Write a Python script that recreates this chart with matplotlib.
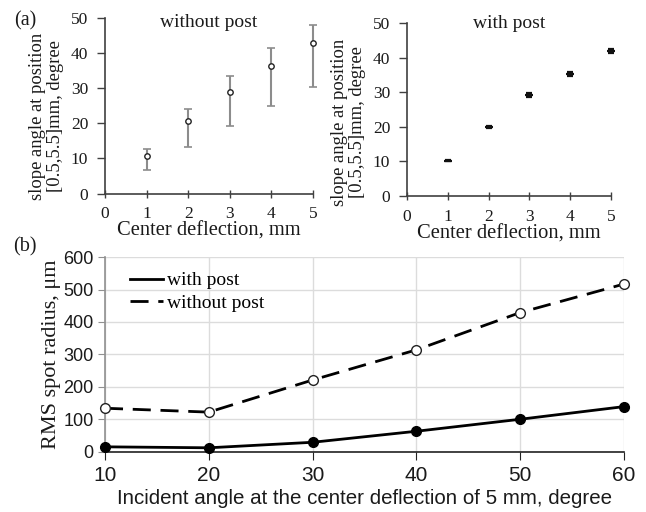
import matplotlib
matplotlib.use("Agg")
import matplotlib.pyplot as plt
import numpy as np

# ---- data -------------------------------------------------------------
deflection = [1, 2, 3, 4, 5]

# slope angle without post (mean, lower / upper bar ends)
slope_without = [10.7, 20.7, 28.9, 36.4, 42.8]
slope_without_low = [6.6, 13.2, 19.1, 25.0, 30.2]
slope_without_high = [12.6, 24.1, 33.4, 41.5, 48.0]

# slope angle with post (mean and small symmetric spread)
slope_with = [10.2, 20.0, 29.2, 35.2, 41.9]
slope_with_err = [0.2, 0.3, 0.5, 0.6, 0.5]

incident_angle = [10, 20, 30, 40, 50, 60]
rms_with_post = [15, 12, 29, 63, 100, 139]
rms_without_post = [134, 122, 221, 314, 429, 517]

top_xticks = [0, 1, 2, 3, 4, 5]
top_yticks = [0, 10, 20, 30, 40, 50]
bottom_yticks = [0, 100, 200, 300, 400, 500, 600]

SERIF = "Liberation Serif"
SANS = "Liberation Sans"
TXT = "#1a1a1a"

fig = plt.figure(figsize=(6.46, 5.12), dpi=100)


def style_top(ax, title, title_y, label_xy):
    ax.set_xlim(0, 5)
    ax.set_ylim(0, 50)
    ax.set_xticks(top_xticks)
    ax.set_yticks(top_yticks)
    for s in ("top", "right"):
        ax.spines[s].set_visible(False)
    for s in ("left", "bottom"):
        ax.spines[s].set_color("#404040")
        ax.spines[s].set_linewidth(1.2)
    ax.tick_params(axis="x", direction="inout", length=6, width=1.0,
                   color="#404040", labelsize=12.5, labelcolor=TXT, pad=6)
    ax.tick_params(axis="y", direction="out", length=6, width=1.0,
                   color="#404040", labelsize=12.5, labelcolor=TXT, pad=6)
    for lab in ax.get_xticklabels() + ax.get_yticklabels():
        lab.set_fontfamily(SERIF)
    ax.set_xlabel("Center deflection, mm", fontfamily=SERIF, fontsize=14.8,
                  color=TXT, labelpad=0)
    ax.set_ylabel("slope angle at position\n[0.5,5.5]mm, degree",
                  fontfamily=SERIF, fontsize=13.4, color=TXT,
                  linespacing=1.1, va="center")
    ax.yaxis.set_label_coords(*label_xy)
    ax.text(0.5, title_y, title, transform=ax.transAxes, ha="center",
            va="top", fontfamily=SERIF, fontsize=14, color=TXT)


# ---- (a) left: without post -------------------------------------------
ax1 = fig.add_axes([0.1625, 0.622, 0.322, 0.343])
yerr_lo = np.array(slope_without) - np.array(slope_without_low)
yerr_hi = np.array(slope_without_high) - np.array(slope_without)
ax1.errorbar(deflection, slope_without, yerr=[yerr_lo, yerr_hi], fmt="none",
             ecolor="#8c8c8c", elinewidth=1.5, capsize=2.6, capthick=1.2)
ax1.plot(deflection, slope_without, "o", ms=3.9, mfc="white", mec="#222222",
         mew=1.0, zorder=3)
style_top(ax1, "without post", 1.02, (-0.281, 0.44))
for c in ax1.get_children():
    c.set_clip_on(False)

# ---- (a) right: with post ---------------------------------------------
ax2 = fig.add_axes([0.630, 0.617, 0.316, 0.338])
ax2.errorbar(deflection, slope_with, yerr=slope_with_err, fmt="_",
             color="#111111", ms=6, mew=1.6, ecolor="#111111",
             elinewidth=1.0, capsize=2.5, capthick=1.0)
style_top(ax2, "with post", 1.045, (-0.287, 0.425))
for c in ax2.get_children():
    c.set_clip_on(False)

fig.text(0.022, 0.978, "(a)", fontfamily=SERIF, fontsize=14.5, color=TXT,
         va="top")

# ---- (b) RMS spot radius ----------------------------------------------
ax3 = fig.add_axes([0.1625, 0.1178, 0.8034, 0.380])
ax3.plot(incident_angle, rms_with_post, "-o", color="black", lw=2.0, ms=7,
         mfc="black", mec="black", label="with post", zorder=3)
ax3.plot(incident_angle, rms_without_post, "--o", color="black", lw=2.0,
         ms=7, mfc="white", mec="#222222", mew=1.0, dashes=(6.5, 3.5),
         label="without post", zorder=3)
ax3.set_xlim(10, 60)
ax3.set_ylim(0, 600)
ax3.set_xticks(incident_angle)
ax3.set_yticks(bottom_yticks)
ax3.grid(True, color="#dcdcdc", lw=1.0)
ax3.set_axisbelow(True)
for s in ("top", "right"):
    ax3.spines[s].set_visible(False)
ax3.spines["left"].set_color("#909090")
ax3.spines["left"].set_linewidth(1.2)
ax3.spines["bottom"].set_color("#222222")
ax3.spines["bottom"].set_linewidth(1.2)
ax3.tick_params(axis="y", direction="out", length=5, color="#909090",
                labelsize=13, labelcolor=TXT, pad=3)
ax3.tick_params(axis="x", direction="out", length=6, color="#222222",
                labelsize=15, labelcolor=TXT, pad=4)
for lab in ax3.get_xticklabels() + ax3.get_yticklabels():
    lab.set_fontfamily(SANS)
ax3.set_xlabel("Incident angle at the center deflection of 5 mm, degree",
               fontfamily=SANS, fontsize=14.8, color=TXT, labelpad=3)
ax3.set_ylabel("RMS spot radius, \u03bcm", fontfamily=SERIF, fontsize=16,
               color=TXT, labelpad=2)
leg = ax3.legend(loc="upper left", bbox_to_anchor=(0.015, 1.015),
                 frameon=False, prop={"family": SERIF, "size": 14},
                 handlelength=1.7, handletextpad=0.2, labelspacing=0.25)
for h in leg.legend_handles:
    h.set_marker("")
for c in ax3.lines:
    c.set_clip_on(False)

fig.text(0.02, 0.537, "(b)", fontfamily=SERIF, fontsize=14.5, color=TXT,
         va="top")

fig.savefig("out.png", dpi=100)
